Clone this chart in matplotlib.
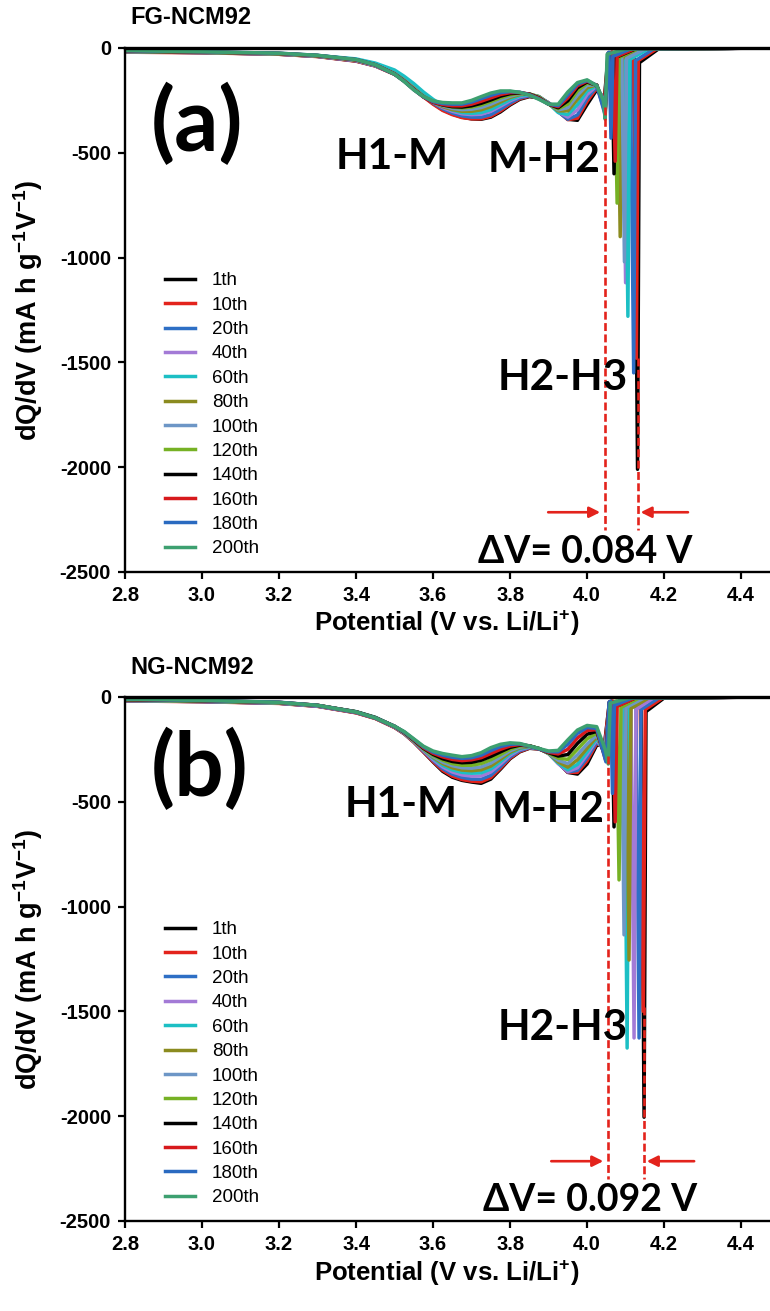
import matplotlib as mpl
mpl.use('Agg')
import matplotlib.pyplot as plt

# Differential capacity (dQ/dV) of FG- and NG-NCM92 over 200 cycles

plt.rcParams['font.family'] = ['Liberation Sans', 'DejaVu Sans']
plt.rcParams['axes.unicode_minus'] = False
plt.rcParams['mathtext.fontset'] = 'custom'
plt.rcParams['mathtext.rm'] = 'Liberation Sans:bold'
plt.rcParams['mathtext.it'] = 'Liberation Sans:bold'
plt.rcParams['mathtext.bf'] = 'Liberation Sans:bold'
plt.rcParams['mathtext.default'] = 'rm'

cycles = ['1th', '10th', '20th', '40th', '60th', '80th', '100th',
          '120th', '140th', '160th', '180th', '200th']
colors = ['#000000', '#e3231c', '#2e6fc5', '#a37ad6', '#1cbfc4', '#8b8b1f',
          '#6d96c6', '#76b124', '#000000', '#d7191c', '#2a6ac0', '#3da070']

# shared potential grid for the smooth part (V)
v_grid = [2.80, 3.00, 3.20, 3.30, 3.40, 3.45, 3.50, 3.525, 3.55, 3.575, 3.60,
          3.625, 3.65, 3.675, 3.70, 3.725, 3.75, 3.775, 3.80, 3.825, 3.85,
          3.875, 3.90, 3.925, 3.95, 3.975, 4.00, 4.025]

# FG-NCM92, dQ/dV on v_grid, one row per cycle
fg_dqdv = [
    [-18, -22, -30, -40, -62, -85, -125, -155, -190, -230, -265, -295, -315, -330, -338, -340, -330, -305, -272, -245, -232, -238, -262, -300, -340, -345, -270, -200],
    [-20, -23, -30, -41, -63, -86, -126, -157, -193, -233, -268, -298, -318, -332, -338, -338, -326, -300, -268, -242, -230, -236, -262, -302, -342, -335, -255, -192],
    [-18, -22, -29, -40, -61, -85, -124, -155, -190, -228, -262, -290, -310, -324, -330, -330, -318, -292, -262, -238, -228, -235, -262, -305, -340, -320, -240, -185],
    [-17, -21, -29, -39, -60, -84, -122, -152, -188, -226, -258, -284, -302, -314, -318, -316, -302, -278, -252, -232, -224, -232, -262, -305, -330, -295, -222, -180],
    [-16, -20, -27, -36, -52, -72, -105, -135, -170, -210, -245, -275, -296, -308, -312, -308, -294, -270, -246, -228, -222, -232, -264, -308, -318, -270, -205, -178],
    [-17, -21, -28, -38, -58, -82, -122, -154, -192, -230, -258, -280, -294, -302, -302, -295, -280, -258, -236, -222, -220, -232, -265, -300, -300, -245, -190, -176],
    [-16, -20, -27, -37, -57, -81, -122, -155, -194, -230, -256, -276, -288, -294, -292, -284, -268, -248, -230, -218, -219, -234, -266, -295, -285, -225, -178, -176],
    [-15, -20, -27, -37, -57, -81, -123, -156, -195, -231, -255, -272, -282, -286, -282, -272, -256, -238, -224, -216, -219, -236, -268, -290, -268, -205, -168, -177],
    [-15, -19, -26, -36, -56, -80, -124, -158, -197, -233, -258, -272, -280, -282, -276, -264, -248, -230, -218, -214, -220, -238, -268, -285, -252, -190, -162, -178],
    [-14, -19, -26, -36, -56, -80, -124, -158, -198, -234, -258, -270, -276, -276, -268, -254, -238, -222, -213, -212, -221, -240, -268, -280, -238, -180, -158, -178],
    [-13, -18, -25, -35, -55, -80, -125, -159, -199, -233, -255, -265, -268, -268, -258, -242, -226, -213, -208, -211, -223, -243, -268, -275, -224, -172, -155, -179],
    [-12, -18, -25, -35, -55, -80, -125, -160, -200, -232, -252, -260, -262, -262, -250, -232, -215, -205, -205, -212, -225, -245, -268, -268, -210, -165, -152, -180],
]
# FG-NCM92 high-voltage part (H2-H3 spike), potentials and values per cycle
fg_tail_v = [
    [4.045, 4.055, 4.122, 4.131, 4.136, 4.185, 4.48],
    [4.045, 4.056, 4.120, 4.128, 4.133, 4.180, 4.48],
    [4.046, 4.058, 4.112, 4.121, 4.126, 4.172, 4.48],
    [4.046, 4.058, 4.092, 4.100, 4.105, 4.150, 4.48],
    [4.046, 4.060, 4.098, 4.106, 4.111, 4.158, 4.48],
    [4.046, 4.058, 4.079, 4.086, 4.091, 4.140, 4.48],
    [4.046, 4.058, 4.090, 4.097, 4.102, 4.150, 4.48],
    [4.047, 4.057, 4.071, 4.078, 4.083, 4.130, 4.48],
    [4.047, 4.056, 4.064, 4.070, 4.075, 4.125, 4.48],
    [4.047, 4.055, 4.066, 4.073, 4.078, 4.122, 4.48],
    [4.047, 4.054, 4.057, 4.062, 4.067, 4.112, 4.48],
    [4.042, 4.047, 4.052, 4.100, 4.48],
]
fg_tail_y = [
    [-240, -25, -20, -2010, -70, -5, 0],
    [-250, -25, -20, -1480, -60, -5, 0],
    [-260, -25, -20, -1550, -60, -5, 0],
    [-270, -25, -20, -1120, -55, -5, 0],
    [-270, -25, -20, -1280, -55, -5, 0],
    [-280, -25, -20, -900, -50, -5, 0],
    [-285, -25, -20, -1020, -50, -5, 0],
    [-295, -25, -20, -740, -45, -5, 0],
    [-300, -25, -20, -600, -45, -5, 0],
    [-310, -25, -20, -540, -40, -5, 0],
    [-320, -25, -20, -430, -40, -5, 0],
    [-250, -340, -30, -5, 0],
]

# NG-NCM92, dQ/dV on v_grid
ng_dqdv = [
    [-18, -22, -30, -44, -75, -102, -145, -175, -215, -262, -310, -355, -383, -398, -406, -412, -392, -345, -295, -262, -245, -248, -266, -312, -360, -368, -320, -230],
    [-19, -23, -31, -45, -76, -103, -146, -176, -216, -262, -308, -350, -378, -394, -402, -405, -385, -340, -292, -260, -244, -248, -268, -315, -360, -360, -305, -222],
    [-18, -22, -30, -44, -74, -101, -144, -174, -213, -258, -302, -342, -368, -384, -392, -393, -374, -332, -286, -256, -242, -247, -268, -316, -358, -350, -290, -215],
    [-17, -21, -29, -43, -73, -100, -143, -173, -212, -256, -298, -334, -358, -372, -378, -377, -358, -320, -278, -251, -240, -246, -270, -318, -356, -338, -275, -205],
    [-16, -20, -28, -41, -70, -97, -140, -170, -209, -252, -292, -326, -348, -360, -364, -362, -344, -309, -271, -247, -238, -246, -270, -315, -348, -322, -262, -198],
    [-16, -20, -28, -41, -71, -98, -141, -171, -210, -251, -288, -318, -338, -349, -352, -348, -330, -298, -264, -243, -236, -246, -270, -310, -335, -300, -245, -190],
    [-15, -19, -27, -41, -71, -98, -141, -171, -210, -250, -284, -311, -328, -338, -340, -334, -316, -287, -257, -239, -234, -246, -270, -302, -318, -276, -225, -182],
    [-14, -19, -27, -40, -71, -99, -141, -170, -208, -247, -279, -302, -318, -326, -326, -318, -300, -275, -249, -234, -233, -246, -268, -292, -298, -250, -200, -172],
    [-13, -18, -26, -40, -71, -99, -140, -169, -206, -245, -274, -295, -308, -314, -312, -302, -284, -262, -241, -230, -233, -247, -266, -282, -275, -222, -178, -164],
    [-12, -17, -26, -40, -72, -100, -140, -168, -204, -242, -269, -286, -298, -304, -300, -290, -270, -250, -234, -227, -234, -248, -264, -272, -250, -196, -160, -156],
    [-11, -17, -25, -40, -72, -100, -140, -167, -202, -238, -263, -278, -288, -293, -290, -278, -256, -237, -226, -224, -235, -248, -261, -262, -226, -174, -146, -150],
    [-10, -16, -26, -40, -72, -100, -140, -165, -200, -235, -258, -270, -278, -285, -280, -266, -242, -226, -219, -222, -234, -246, -258, -255, -205, -158, -136, -142],
]
ng_tail_v = [
    [4.045, 4.058, 4.140, 4.148, 4.153, 4.200, 4.48],
    [4.045, 4.058, 4.138, 4.146, 4.151, 4.196, 4.48],
    [4.046, 4.060, 4.127, 4.135, 4.140, 4.186, 4.48],
    [4.046, 4.060, 4.114, 4.122, 4.127, 4.172, 4.48],
    [4.047, 4.060, 4.096, 4.104, 4.109, 4.155, 4.48],
    [4.047, 4.060, 4.101, 4.109, 4.114, 4.160, 4.48],
    [4.047, 4.060, 4.089, 4.096, 4.101, 4.148, 4.48],
    [4.048, 4.060, 4.076, 4.083, 4.088, 4.135, 4.48],
    [4.048, 4.058, 4.064, 4.070, 4.075, 4.125, 4.48],
    [4.048, 4.058, 4.067, 4.073, 4.078, 4.125, 4.48],
    [4.049, 4.057, 4.061, 4.066, 4.071, 4.118, 4.48],
    [4.047, 4.055, 4.060, 4.108, 4.48],
]
ng_tail_y = [
    [-230, -25, -20, -2005, -70, -5, 0],
    [-240, -25, -20, -1500, -60, -5, 0],
    [-250, -25, -20, -1627, -60, -5, 0],
    [-260, -25, -20, -1627, -60, -5, 0],
    [-265, -25, -20, -1675, -55, -5, 0],
    [-270, -25, -20, -1255, -55, -5, 0],
    [-280, -25, -20, -1135, -50, -5, 0],
    [-285, -25, -20, -873, -50, -5, 0],
    [-290, -25, -20, -620, -45, -5, 0],
    [-300, -25, -20, -596, -45, -5, 0],
    [-310, -25, -20, -460, -40, -5, 0],
    [-250, -320, -30, -5, 0],
]

# H2-H3 peak positions of the 200th and 1th cycle
fg_peak_200, fg_peak_1 = 4.047, 4.131
ng_peak_200, ng_peak_1 = 4.055, 4.147

y_ticks = [0, -500, -1000, -1500, -2000, -2500]
x_ticks = [2.8, 3.0, 3.2, 3.4, 3.6, 3.8, 4.0, 4.2, 4.4]

RED = '#e3231c'
LBL_FONT = ['Lato', 'DejaVu Sans']


def draw_panel(ax, dqdv, tail_v, tail_y, peak_lo, peak_hi, tag, pos):
    for k in range(len(cycles)):
        ax.plot(v_grid + tail_v[k], dqdv[k] + tail_y[k], color=colors[k],
                lw=2.5, label=cycles[k], solid_joinstyle='round')

    ax.set_xlim(2.8, 4.475)
    ax.set_ylim(-2500, 0)
    ax.set_xticks(x_ticks)
    ax.set_xticklabels(['%.1f' % x for x in x_ticks])
    ax.set_yticks(y_ticks)
    ax.tick_params(direction='out', length=5, width=1.6, labelsize=14.5,
                   pad=5)
    for lab in ax.get_xticklabels() + ax.get_yticklabels():
        lab.set_fontweight('bold')
    ax.spines['right'].set_visible(False)
    ax.spines['top'].set_linewidth(2.4)
    ax.spines['left'].set_linewidth(1.7)
    ax.spines['bottom'].set_linewidth(1.7)

    # peak shift markers
    dash = (0, (3, 1.3))
    ax.plot([peak_lo, peak_lo], [-280, -2300], color=RED, lw=1.9, ls=dash)
    ax.plot([peak_hi, peak_hi], [-1480, -2300], color=RED, lw=1.9, ls=dash)
    ay = -2215
    ax.annotate('', xy=(peak_lo - 0.013, ay), xytext=(peak_lo - 0.148, ay),
                arrowprops=dict(arrowstyle='-|>', color=RED, lw=1.9,
                                mutation_scale=16, shrinkA=0, shrinkB=0))
    ax.annotate('', xy=(peak_hi + 0.008, ay), xytext=(peak_hi + 0.131, ay),
                arrowprops=dict(arrowstyle='-|>', color=RED, lw=1.9,
                                mutation_scale=16, shrinkA=0, shrinkB=0))

    ax.text(pos['tag'][0], pos['tag'][1], tag, family=LBL_FONT,
            fontweight='bold', fontsize=63, ha='center', va='center')
    for txt, key in [('H1-M', 'h1m'), ('M-H2', 'mh2'), ('H2-H3', 'h2h3')]:
        ax.text(pos[key][0], pos[key][1], txt, family=LBL_FONT,
                fontweight='bold', fontsize=30.5, ha='center', va='center')
    ax.text(pos['dv'][0], pos['dv'][1],
            '\u0394V= %.3f V' % (peak_hi - peak_lo + 0.0001),
            family=LBL_FONT, fontweight='bold', fontsize=27,
            ha='center', va='center')

    ax.legend(loc='upper left', bbox_to_anchor=(0.062, 0.572), frameon=False,
              fontsize=13.5, handlelength=1.6, handletextpad=0.9,
              labelspacing=0.386, borderpad=0, borderaxespad=0)


fig = plt.figure(figsize=(7.7, 13.11), dpi=100)
ax_a = fig.add_axes([0.1623, 0.5637, 0.8377, 0.3997])
ax_b = fig.add_axes([0.1623, 0.0687, 0.8377, 0.3997])

draw_panel(ax_a, fg_dqdv, fg_tail_v, fg_tail_y, fg_peak_200, fg_peak_1, '(a)',
           {'tag': (2.987, -367), 'h1m': (3.494, -520), 'mh2': (3.888, -534),
            'h2h3': (3.938, -1574), 'dv': (3.995, -2405)})
draw_panel(ax_b, ng_dqdv, ng_tail_v, ng_tail_y, ng_peak_200, ng_peak_1, '(b)',
           {'tag': (2.995, -348), 'h1m': (3.517, -515), 'mh2': (3.899, -539),
            'h2h3': (3.938, -1579), 'dv': (4.008, -2400)})

ylab = 'dQ/dV (mA h g$^{-1}$V$^{-1}$)'
xlab = 'Potential (V vs. Li/Li$^{+}$)'
for title, ty, yc, xy in [('FG-NCM92', 0.9863, 0.7635, 0.5245),
                          ('NG-NCM92', 0.4912, 0.2685, 0.0290)]:
    fig.text(0.169, ty, title, fontsize=17, fontweight='bold',
             ha='left', va='center')
    fig.text(0.037, yc, ylab, fontsize=19.5, fontweight='bold',
             rotation=90, ha='center', va='center')
    fig.text(0.5805, xy, xlab, fontsize=18.5, fontweight='bold',
             ha='center', va='center')

fig.savefig('out.png', dpi=100)
